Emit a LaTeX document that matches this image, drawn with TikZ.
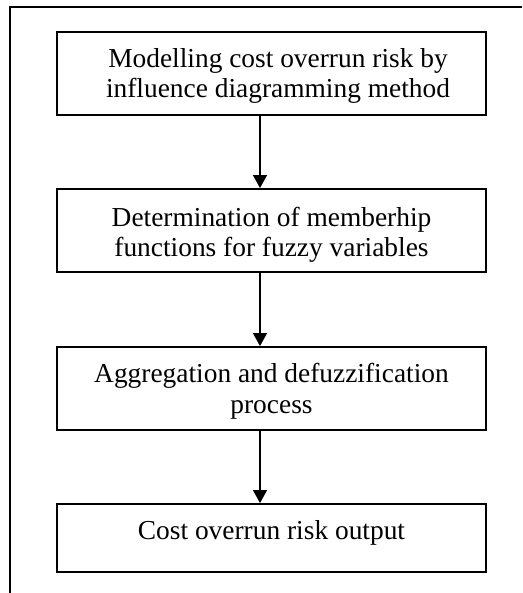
\documentclass[tikz,border=0pt]{standalone}
\usepackage{fontspec}
\setmainfont{Liberation Serif}
\usetikzlibrary{arrows.meta}
\begin{document}
\begin{tikzpicture}[x=1pt,y=1pt,
  stepbox/.style={draw=black, line width=1.9pt, minimum width=429pt, inner sep=0pt},
  steptext/.style={anchor=base, align=center, inner sep=0pt,
    font=\fontsize{27.4}{30.5}\selectfont},
  flow/.style={line width=1.4pt, -{Triangle[width=14pt,length=13pt]}},
  frameline/.style={line width=2.4pt}]
  \useasboundingbox (0,0) rectangle (522,-593);

  % open frame: top and left edges
  \coordinate (fl) at (10,-593);
  \coordinate (ftl) at (10,-7);
  \coordinate (ftr) at (522,-7);
  \draw[frameline] (fl) -- (ftl) -- (ftr);

  % process steps
  \node[stepbox, minimum height=83pt] (b1) at (271.5,-73.5) {};
  \node[stepbox, minimum height=83pt] (b2) at (271.5,-230.5) {};
  \node[stepbox, minimum height=83pt] (b3) at (271.5,-388.5) {};
  \node[stepbox, minimum height=68pt] (b4) at (271.5,-538) {};

  % step labels (base anchor sits on the last line's baseline)
  \node[steptext] (t1) at (278,-98) {Modelling cost overrun risk by\\influence diagramming method};
  \node[steptext] (t2) at (271.5,-256.5) {Determination of memberhip\\functions for fuzzy variables};
  \node[steptext] (t3) at (271.5,-413) {Aggregation and defuzzification\\process};
  \node[steptext] (t4) at (271.5,-539) {Cost overrun risk output};

  % connectors between steps
  \draw[flow] ([xshift=-11.5pt]b1.south) -- ([xshift=-11.5pt]b2.north);
  \draw[flow] ([xshift=-11.5pt]b2.south) -- ([xshift=-11.5pt]b3.north);
  \draw[flow] ([xshift=-11.5pt]b3.south) -- ([xshift=-11.5pt]b4.north);
\end{tikzpicture}
\end{document}
